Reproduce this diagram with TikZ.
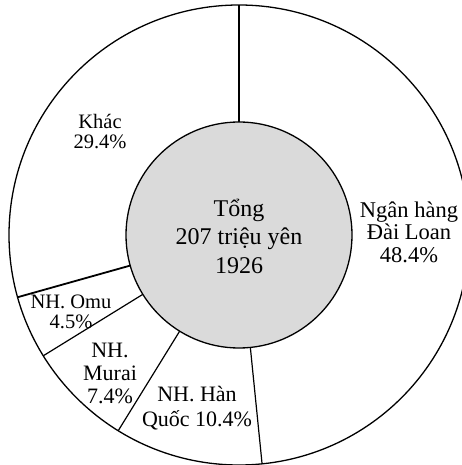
\documentclass[tikz,border=0pt]{standalone}
\usepackage{fontspec}
\setmainfont{Liberation Serif}
\usetikzlibrary{calc}
\definecolor{centergray}{RGB}{218,218,218}
\begin{document}
\begin{tikzpicture}[x=1pt,y=1pt,
  ring/.style={line width=1.3pt},
  divider/.style={line width=1.2pt},
  lbl/.style={align=center,inner sep=0pt,font=\fontsize{21}{19}\selectfont}]
\useasboundingbox (0,0) rectangle (461,465);
\coordinate (C) at (239,230);
% outer ring
\draw[ring] (C) circle[radius=230];
% dividers
\draw[line width=2.5pt] ($(C)+(90:113)$) -- ($(C)+(90:230)$);
\draw[divider] ($(C)+(-84.24:113)$) -- ($(C)+(-84.24:230)$);
\draw[divider] ($(C)+(-121.68:113)$) -- ($(C)+(-121.68:230)$);
\draw[divider] ($(C)+(-148.32:113)$) -- ($(C)+(-148.32:230)$);
\draw[line width=1.8pt] ($(C)+(-164.3:113)$) -- ($(C)+(-164.3:230)$);
% centre
\draw[ring,fill=centergray] (C) circle[radius=113];
\node[lbl,font=\fontsize{24}{28.5}\selectfont] (total) at (239,229) {Tổng\\207 triệu yên\\1926};
\node[lbl,font=\fontsize{22.5}{22.5}\selectfont] (tw) at (409,233) {Ngân hàng\\Đài Loan\\48.4\%};
\node[lbl,font=\fontsize{22}{24.5}\selectfont] (kr) at (197,57) {NH. Hàn\\Quốc 10.4\%};
\node[lbl,font=\fontsize{22}{23}\selectfont] (mu) at (110,92) {NH.\\Murai\\7.4\%};
\node[lbl,font=\fontsize{20.5}{20}\selectfont] (om) at (71,153) {NH. Omu\\4.5\%};
\node[lbl,font=\fontsize{20.5}{20}\selectfont] (ot) at (100,333) {Khác\\29.4\%};
\end{tikzpicture}
\end{document}
